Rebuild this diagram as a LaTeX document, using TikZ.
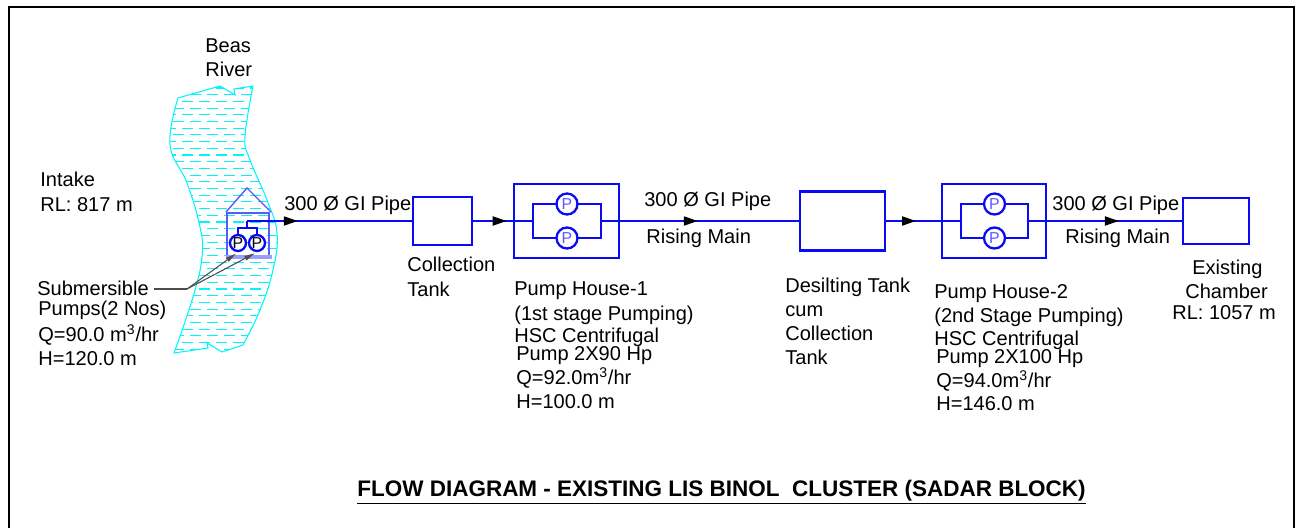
\documentclass[tikz,border=0pt]{standalone}
\usepackage{fontspec}
\setmainfont{Liberation Sans}
\usetikzlibrary{positioning,calc}
\usetikzlibrary{arrows.meta}
\usetikzlibrary{decorations.markings}

\definecolor{pipeblue}{RGB}{10,10,245}
\definecolor{houseblue}{RGB}{90,90,250}
\definecolor{water}{RGB}{0,245,250}

\tikzset{
  tag/.style={anchor=west, inner sep=0pt, text height=9.2pt, text depth=2.2pt, font=\fontsize{11.4}{13}\selectfont},
  unit/.style={draw=pipeblue, line width=1.4pt, inner sep=0pt, outer sep=0pt},
  pump/.style={circle, draw=pipeblue, fill=white, line width=1.3pt, inner sep=0pt, minimum size=#1, font=\fontsize{9}{10}\selectfont},
  pipe/.style={draw=pipeblue, line width=1.4pt},
  flow/.style={postaction={decorate}, decoration={markings, mark=at position #1 with {\arrow{Triangle[length=8pt,width=5pt,black]}}}},
  leader/.style={draw=black!70, line width=0.6pt},
}

\newcommand{\riverpath}{(178,98) -- (220,86) -- (235,95) -- (234,89) -- (253,86)
  -- plot[smooth, tension=0.7] coordinates {(253,86) (245,137) (250,160) (267,200) (277,233) (273,270) (260,310) (243,345)}
  -- (222,352) -- (207,343) -- (208,348) -- (174,353)
  -- plot[smooth, tension=0.7] coordinates {(174,353) (193,297) (202,257) (200,227) (187,183) (170,145) (178,98)}
  -- cycle}

\begin{document}
\begin{tikzpicture}[x=0.02cm, y=-0.02cm]
  \useasboundingbox (0,0) rectangle (1295,528);

  % sheet frame
  \draw [line width=1.2pt] (9,528) -- (9,7) -- (1294,7) -- (1294,528);

  % river
  \begin{scope}
    \clip \riverpath;
    \foreach \n in {0,...,40} {
      \pgfmathsetmacro{\rowy}{88+6.7*\n}
      \pgfmathsetmacro{\rowshift}{mod(\n,2)*5}
      \draw [water, line width=0.6pt, dash pattern=on 6pt off 3.7pt, dash phase=\rowshift pt] (165,\rowy) -- (285,\rowy);
    }
  \end{scope}
  \draw [water, line width=0.6pt] \riverpath;

  % intake house
  \draw [houseblue, line width=0.8pt] (227,257) -- (227,213) -- (269,213) -- (269,257);
  \draw [houseblue, line width=0.8pt] (226,212) -- (247,188) -- (271,212);
  \draw [houseblue!60, fill=houseblue!60, line width=0.4pt] (226,255) rectangle (271,258);

  \node[pump=0.32cm] (pumpA) at (238,243) {P};
  \node[pump=0.32cm] (pumpB) at (257,243) {P};
  \coordinate (tee) at (247,228);
  \coordinate (riser) at (247,221);

  % units on the line
  \node[unit, minimum width=1.18cm, minimum height=0.96cm] (tankA) at (442.5,221) {};
  \node[unit, minimum width=2.1cm, minimum height=1.48cm] (houseA) at (566.5,221) {};
  \node[unit, minimum width=1.36cm, minimum height=0.68cm] (loopA) at (567,221) {};
  \node[pump=0.42cm, text=houseblue] (pumpC) at (loopA.north) {P};
  \node[pump=0.42cm, text=houseblue] (pumpD) at (loopA.south) {P};
  \node[unit, minimum width=1.7cm, minimum height=1.18cm] (tankB) at (842.5,221) {};
  \node[unit, minimum width=2.08cm, minimum height=1.48cm] (houseB) at (994,221) {};
  \node[unit, minimum width=1.34cm, minimum height=0.68cm] (loopB) at (994.5,221) {};
  \node[pump=0.42cm, text=houseblue] (pumpE) at (loopB.north) {P};
  \node[pump=0.42cm, text=houseblue] (pumpF) at (loopB.south) {P};
  \node[unit, minimum width=1.32cm, minimum height=0.92cm] (chamber) at (1216,221) {};

  \draw [pipe] (pumpA.north) |- (tee) -| (pumpB.north);
  \draw [pipe] (tee) -- (riser);
  \draw [pipe, flow=0.307] (riser) -- (tankA.west);
  \draw [pipe, flow=0.57] (tankA.east) -- (loopA.west);
  \draw [pipe, flow=0.487] (loopA.east) -- (tankB.west);
  \draw [pipe, flow=0.41] (tankB.east) -- (loopB.west);
  \draw [pipe, flow=0.587] (loopB.east) -- (chamber.west);

  % texts
  \node[tag] (beas) at (205,46) {Beas};
  \node[tag] (river) at (205,70) {River};
  \node[tag] (intake) at (40,180) {Intake};
  \node[tag] (intakeRL) at (40,205) {RL: 817 m};
  \node[tag] (subm) at (37,289) {Submersible};
  \node[tag] (submA) at (38,309) {Pumps(2 Nos)};
  \node[tag] (submB) at (38,335) {Q=90.0 m\textsuperscript{3}/hr};
  \node[tag] (submC) at (38,359) {H=120.0 m};

  \node[tag] (pipeA) at (284,204) {300 Ø GI Pipe};
  \node[tag] (tankAa) at (407,265) {Collection};
  \node[tag] (tankAb) at (407,290) {Tank};

  \node[tag] (phA) at (514,289) {Pump House-1};
  \node[tag] (phAa) at (514,314) {(1st stage Pumping)};
  \node[tag] (phAb) at (514,336) {HSC Centrifugal};
  \node[tag] (phAc) at (516,354) {Pump 2X90 Hp};
  \node[tag] (phAd) at (516,378) {Q=92.0m\textsuperscript{3}/hr};
  \node[tag] (phAe) at (516,402) {H=100.0 m};

  \node[tag] (pipeB) at (644,200) {300 Ø GI Pipe};
  \node[tag] (mainB) at (646,237) {Rising Main};

  \node[tag] (tankBa) at (785,286) {Desilting Tank};
  \node[tag] (tankBb) at (785,310) {cum};
  \node[tag] (tankBc) at (785,334) {Collection};
  \node[tag] (tankBd) at (785,358) {Tank};

  \node[tag] (phB) at (934,292) {Pump House-2};
  \node[tag] (phBa) at (934,316) {(2nd Stage Pumping)};
  \node[tag] (phBb) at (934,339) {HSC Centrifugal};
  \node[tag] (phBc) at (936,357) {Pump 2X100 Hp};
  \node[tag] (phBd) at (936,381) {Q=94.0m\textsuperscript{3}/hr};
  \node[tag] (phBe) at (936,404) {H=146.0 m};

  \node[tag] (pipeC) at (1052,204) {300 Ø GI Pipe};
  \node[tag] (mainC) at (1065,237) {Rising Main};

  \node[tag] (chamberA) at (1192,268) {Existing};
  \node[tag] (chamberB) at (1185,292) {Chamber};
  \node[tag] (chamberC) at (1172,313) {RL: 1057 m};

  \node[tag, font=\fontsize{12.8}{14}\selectfont\bfseries] (title) at (357,490) {\underline{FLOW DIAGRAM - EXISTING LIS BINOL\ \ CLUSTER (SADAR BLOCK)}};

  % leader to the two pumps
  \coordinate (elbow) at (187,289);
  \draw [leader, shorten <=3pt] (subm.east) -- (elbow);
  \draw [leader, -{Triangle[length=6pt,width=2.6pt]}, shorten >=1.5pt] (elbow) -- (pumpA.south);
  \draw [leader, -{Triangle[length=6pt,width=2.6pt]}, shorten >=1.5pt] (elbow) -- (pumpB.south);

\end{tikzpicture}
\end{document}
